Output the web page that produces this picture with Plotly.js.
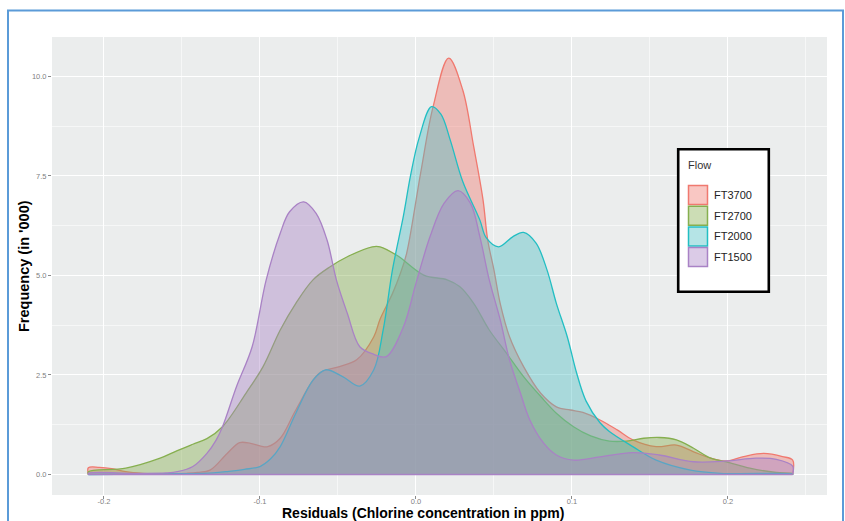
<!DOCTYPE html>
<html>
<head>
<meta charset="utf-8">
<script src="https://cdn.plot.ly/plotly-3.0.1.min.js"></script>
<style>
  html, body { margin: 0; padding: 0; background: #ffffff; }
  #chart { width: 845px; height: 521px; }
</style>
</head>
<body>
<div id="chart"></div>
<script>
// ---------------- DATA ----------------
const seriesNames = ["FT3700", "FT2700", "FT2000", "FT1500"];

const xFT3700 = [-0.21, -0.203, -0.195, -0.186, -0.175, -0.16, -0.147, -0.14, -0.132, -0.121, -0.113, -0.106, -0.1, -0.095, -0.087, -0.077, -0.062, -0.049, -0.038, -0.027, -0.023, -0.015, -0.01, -0.006, 0.003, 0.011, 0.021, 0.03, 0.037, 0.043, 0.046, 0.05, 0.054, 0.06, 0.069, 0.08, 0.09, 0.099, 0.107, 0.118, 0.129, 0.139, 0.154, 0.167, 0.178, 0.189, 0.199, 0.21, 0.223, 0.235, 0.2415];
const yFT3700 = [0.17, 0.18, 0.15, 0.07, 0.03, 0.02, 0.03, 0.05, 0.11, 0.53, 0.80, 0.78, 0.72, 0.70, 0.91, 1.62, 2.54, 2.71, 2.88, 3.46, 3.90, 4.55, 5.05, 5.55, 7.57, 9.24, 10.46, 9.66, 8.24, 6.90, 5.89, 5.14, 4.30, 3.46, 2.71, 2.04, 1.70, 1.62, 1.56, 1.37, 1.12, 0.87, 0.70, 0.74, 0.57, 0.41, 0.34, 0.45, 0.53, 0.45, 0.36];

const xFT2700 = [-0.21, -0.186, -0.164, -0.153, -0.143, -0.134, -0.124, -0.109, -0.098, -0.087, -0.077, -0.066, -0.055, -0.044, -0.028, -0.023, -0.012, 0.005, 0.02, 0.028, 0.037, 0.047, 0.058, 0.069, 0.08, 0.09, 0.101, 0.112, 0.124, 0.135, 0.146, 0.156, 0.167, 0.178, 0.189, 0.199, 0.214, 0.231, 0.2415];
const yFT2700 = [0.07, 0.16, 0.41, 0.60, 0.76, 0.90, 1.20, 2.04, 2.71, 3.63, 4.30, 4.89, 5.22, 5.47, 5.72, 5.72, 5.50, 5.01, 4.89, 4.72, 4.30, 3.63, 3.05, 2.46, 1.96, 1.54, 1.20, 0.97, 0.84, 0.84, 0.91, 0.93, 0.87, 0.66, 0.41, 0.32, 0.16, 0.05, 0.02];

const xFT2000 = [-0.21, -0.18, -0.15, -0.13, -0.12, -0.11, -0.1, -0.093, -0.087, -0.077, -0.066, -0.058, -0.047, -0.036, -0.027, -0.021, -0.015, -0.008, -0.0035, 0.002, 0.01, 0.016, 0.022, 0.03, 0.041, 0.045, 0.053, 0.062, 0.069, 0.077, 0.084, 0.09, 0.097, 0.103, 0.109, 0.118, 0.124, 0.139, 0.154, 0.176, 0.195, 0.2415];
const yFT2000 = [0.0, 0.01, 0.02, 0.04, 0.08, 0.13, 0.20, 0.40, 0.70, 1.54, 2.37, 2.63, 2.46, 2.22, 2.63, 3.63, 5.15, 6.50, 7.50, 8.45, 9.24, 9.05, 8.40, 7.36, 6.39, 5.95, 5.72, 5.97, 6.08, 5.81, 5.14, 4.30, 3.46, 2.55, 1.85, 1.30, 1.08, 0.70, 0.36, 0.11, 0.03, 0.01];

const xFT1500 = [-0.21, -0.18, -0.16, -0.153, -0.143, -0.134, -0.128, -0.124, -0.115, -0.105, -0.096, -0.087, -0.081, -0.072, -0.064, -0.057, -0.051, -0.044, -0.036, -0.027, -0.019, -0.008, 0.0, 0.009, 0.018, 0.027, 0.035, 0.041, 0.047, 0.054, 0.06, 0.067, 0.073, 0.082, 0.09, 0.101, 0.118, 0.139, 0.156, 0.178, 0.199, 0.218, 0.231, 0.2415];
const yFT1500 = [0.03, 0.03, 0.04, 0.07, 0.20, 0.53, 0.87, 1.20, 2.21, 3.21, 4.89, 6.06, 6.60, 6.85, 6.56, 5.89, 4.89, 4.05, 3.21, 3.02, 2.96, 3.71, 4.80, 5.97, 6.81, 7.13, 6.81, 5.97, 4.89, 3.89, 2.88, 2.04, 1.37, 0.78, 0.49, 0.36, 0.44, 0.55, 0.49, 0.32, 0.34, 0.41, 0.38, 0.21];

const xTickVals = [-0.2, -0.1, 0.0, 0.1, 0.2];
const xTickText = ["-0.2", "-0.1", "0.0", "0.1", "0.2"];
const xMinorVals = [-0.15, -0.05, 0.05, 0.15, 0.25];
const yTickVals = [0, 2.5, 5, 7.5, 10];
const yTickText = ["0.0", "2.5", "5.0", "7.5", "10.0"];
const yMinorVals = [1.25, 3.75, 6.25, 8.75];

const xTitle = "Residuals (Chlorine concentration in ppm)";
const yTitle = "Frequency (in '000)";
const legendTitle = "Flow";

// ---------------- STYLE ----------------
const lineColors = ["#F0796F", "#86AF4F", "#22BEC3", "#A982C5"];
const fillColors = ["#F0796F", "#86AF4F", "#4EBEC3", "#A982C5"];
const fillAlpha = 0.42;
function hexToRgba(hex, a) {
  const r = parseInt(hex.slice(1, 3), 16), g = parseInt(hex.slice(3, 5), 16), b = parseInt(hex.slice(5, 7), 16);
  return `rgba(${r},${g},${b},${a})`;
}

const W = 845, H = 521;
const M = { l: 52, r: 18, t: 37, b: 26 };
const PW = W - M.l - M.r, PH = H - M.t - M.b;
const px2paperX = px => (px - M.l) / PW;
const px2paperY = py => (H - M.b - py) / PH;

const FONT = "Liberation Sans, Arial, Helvetica, sans-serif";

const xs = [xFT3700, xFT2700, xFT2000, xFT1500];
const ys = [yFT3700, yFT2700, yFT2000, yFT1500];

const traces = seriesNames.map((name, i) => {
  const x = xs[i], y = ys[i];
  return {
    type: "scatter",
    mode: "lines",
    name: name,
    x: [x[0]].concat(x, [x[x.length - 1]]),
    y: [0].concat(y, [0]),
    fill: "tozeroy",
    fillcolor: hexToRgba(fillColors[i], fillAlpha),
    line: { color: lineColors[i], width: 1.3, shape: "spline", smoothing: 1 },
    showlegend: false,
    hoverinfo: "skip"
  };
});
// baseline outline of the top-most density polygon
const allX = [].concat(...xs);
traces.push({
  type: "scatter", mode: "lines",
  x: [Math.min(...allX), Math.max(...allX)], y: [0, 0],
  line: { color: lineColors[3], width: 1.3 },
  showlegend: false, hoverinfo: "skip"
});

// ---------------- manual legend (ggplot style) ----------------
const shapes = [];
const annotations = [];
const legBox = { x0: 678.2, x1: 768.8, y0: 149.2, y1: 291.8 };
shapes.push({
  type: "rect", xref: "paper", yref: "paper", layer: "above",
  x0: px2paperX(legBox.x0), x1: px2paperX(legBox.x1),
  y0: px2paperY(legBox.y1), y1: px2paperY(legBox.y0),
  fillcolor: "#ffffff", line: { color: "#000000", width: 2.6 }
});
annotations.push({
  xref: "paper", yref: "paper", x: px2paperX(686), y: px2paperY(164.5),
  xanchor: "left", yanchor: "middle", showarrow: false,
  text: legendTitle, font: { family: FONT, size: 11, color: "#333333" }
});
const itemY0 = 195, itemStep = 20.7, sw = 19;
seriesNames.forEach((name, i) => {
  const cy = itemY0 + i * itemStep;
  shapes.push({
    type: "rect", xref: "paper", yref: "paper", layer: "above",
    x0: px2paperX(688.5), x1: px2paperX(688.5 + sw),
    y0: px2paperY(cy + sw / 2), y1: px2paperY(cy - sw / 2),
    fillcolor: hexToRgba(fillColors[i], fillAlpha),
    line: { color: lineColors[i], width: 1.5 }
  });
  annotations.push({
    xref: "paper", yref: "paper", x: px2paperX(712), y: px2paperY(cy),
    xanchor: "left", yanchor: "middle", showarrow: false,
    text: name, font: { family: FONT, size: 11, color: "#222222" }
  });
});

// axis titles
annotations.push({
  xref: "paper", yref: "paper", x: px2paperX(423), y: px2paperY(521.5),
  xanchor: "center", yanchor: "bottom", showarrow: false, borderpad: 0,
  text: xTitle, font: { family: FONT, size: 14, color: "#000000", weight: "bold" }
});
annotations.push({
  xref: "paper", yref: "paper", x: px2paperX(24), y: 0.5,
  xanchor: "center", yanchor: "middle", showarrow: false, textangle: -90,
  text: yTitle, font: { family: FONT, size: 14.5, color: "#000000", weight: "bold" }
});

// blue frame around the figure
shapes.push({
  type: "rect", xref: "paper", yref: "paper", layer: "above",
  x0: px2paperX(8), x1: px2paperX(843), y0: px2paperY(560), y1: px2paperY(10.5),
  fillcolor: "rgba(0,0,0,0)", line: { color: "#5B9BD8", width: 2 }
});

const axisCommon = {
  showgrid: true, gridcolor: "#ffffff", gridwidth: 1,
  zeroline: false, showline: false,
  ticks: "outside", ticklen: 3, tickwidth: 1, tickcolor: "#8a8a8a",
  tickfont: { family: FONT, size: 7.5, color: "#7f7f7f" },
  fixedrange: true
};

const layout = {
  width: W, height: H,
  margin: M,
  paper_bgcolor: "#ffffff",
  plot_bgcolor: "#EBEDED",
  showlegend: false,
  xaxis: Object.assign({}, axisCommon, {
    range: [-0.2333, 0.2635],
    tickmode: "array", tickvals: xTickVals, ticktext: xTickText,
    ticklabelstandoff: -4,
    minor: { tickmode: "array", tickvals: xMinorVals, showgrid: true, gridcolor: "#ffffff", gridwidth: 0.55 }
  }),
  yaxis: Object.assign({}, axisCommon, {
    range: [-0.515, 10.99],
    tickmode: "array", tickvals: yTickVals, ticktext: yTickText,
    minor: { tickmode: "array", tickvals: yMinorVals, showgrid: true, gridcolor: "#ffffff", gridwidth: 0.55 }
  }),
  shapes: shapes,
  annotations: annotations
};

Plotly.newPlot("chart", traces, layout, { staticPlot: true, displayModeBar: false });
</script>
</body>
</html>
